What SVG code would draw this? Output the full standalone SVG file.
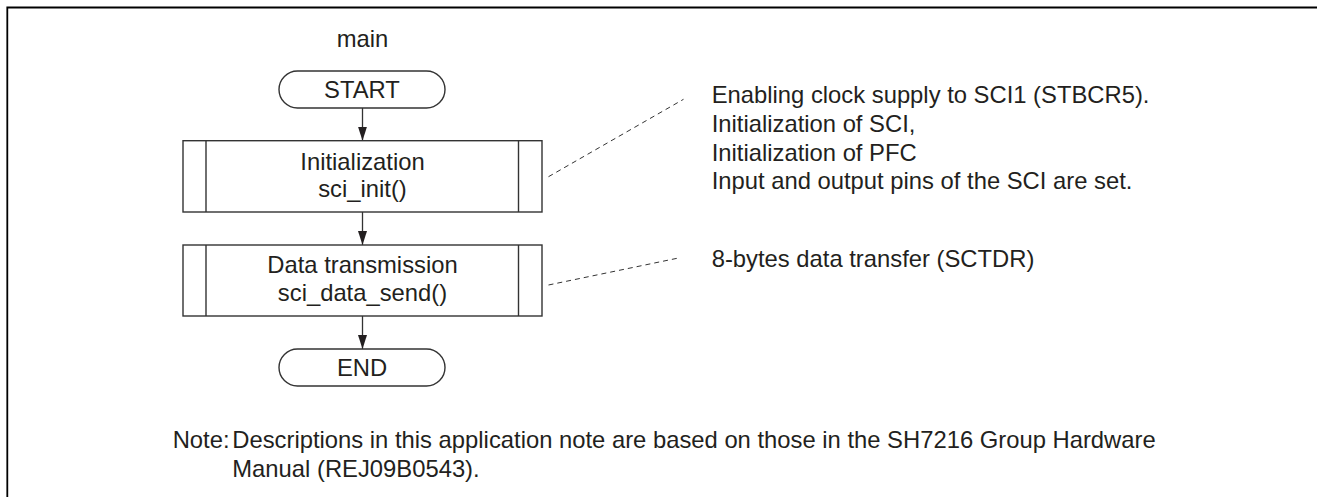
<svg xmlns="http://www.w3.org/2000/svg" width="1317" height="497" viewBox="0 0 1317 497">
<style>
text{font-family:"Liberation Sans",Arial,sans-serif;font-size:23.8px;fill:#231f20}
.c{text-anchor:middle}
.shape{fill:#fff;stroke:#333;stroke-width:1.4}
.conn{stroke:#333;stroke-width:1.3;fill:none}
.dash{stroke:#333;stroke-width:1;fill:none;stroke-dasharray:5 4}
.frame{stroke:#000;stroke-width:1.8;fill:none}
</style>
<defs>
<marker id="arr" markerUnits="userSpaceOnUse" markerWidth="15" markerHeight="10" refX="14" refY="5" orient="auto" viewBox="0 0 15 10">
<path d="M0,0.5 L14,5 L0,9.5 Z" fill="#231f20"/>
</marker>
</defs>
<rect x="0" y="0" width="1317" height="497" fill="#fff"/>
<path class="frame" d="M7.3,497 L7.3,7.5 L1317,7.5"/>
<text id="title" class="c" x="362.5" y="46.7">main</text>
<g id="connectors">
<line class="conn" x1="362.5" y1="108" x2="362.5" y2="140.7" marker-end="url(#arr)"/>
<line class="conn" x1="362.5" y1="212" x2="362.5" y2="245" marker-end="url(#arr)"/>
<line class="conn" x1="362.5" y1="316" x2="362.5" y2="349" marker-end="url(#arr)"/>
<line class="dash" x1="548.5" y1="176.7" x2="683.5" y2="99.3"/>
<line class="dash" x1="548.5" y1="285" x2="680" y2="257.7"/>
</g>
<g id="start">
<rect class="shape" x="279" y="71" width="166" height="37" rx="18.5" ry="18.5"/>
<text class="c" x="362" y="98.3">START</text>
</g>
<g id="init">
<rect class="shape" x="183" y="140.7" width="359" height="71.3"/>
<line class="shape" x1="206" y1="140.7" x2="206" y2="212"/>
<line class="shape" x1="518.5" y1="140.7" x2="518.5" y2="212"/>
<text class="c" x="362.5" y="169.5">Initialization</text>
<text class="c" x="362.5" y="197">sci_init()</text>
</g>
<g id="send">
<rect class="shape" x="183" y="245" width="359" height="71"/>
<line class="shape" x1="206" y1="245" x2="206" y2="316"/>
<line class="shape" x1="518.5" y1="245" x2="518.5" y2="316"/>
<text class="c" x="362.5" y="273">Data transmission</text>
<text class="c" x="362.5" y="301">sci_data_send()</text>
</g>
<g id="end">
<rect class="shape" x="279" y="349" width="166" height="37" rx="18.5" ry="18.5"/>
<text class="c" x="362" y="376">END</text>
</g>
<g id="note-init">
<text x="711.7" y="103.3">Enabling clock supply to SCI1 (STBCR5).</text>
<text x="711.7" y="131.8">Initialization of SCI,</text>
<text x="711.7" y="160.5">Initialization of PFC</text>
<text x="711.7" y="189.3">Input and output pins of the SCI are set.</text>
</g>
<g id="note-send">
<text x="711.7" y="266.7">8-bytes data transfer (SCTDR)</text>
</g>
<g id="footnote">
<text x="172.7" y="448">Note:</text>
<text x="232.3" y="448">Descriptions in this application note are based on those in the SH7216 Group Hardware</text>
<text x="232.3" y="476.7">Manual (REJ09B0543).</text>
</g>
</svg>
